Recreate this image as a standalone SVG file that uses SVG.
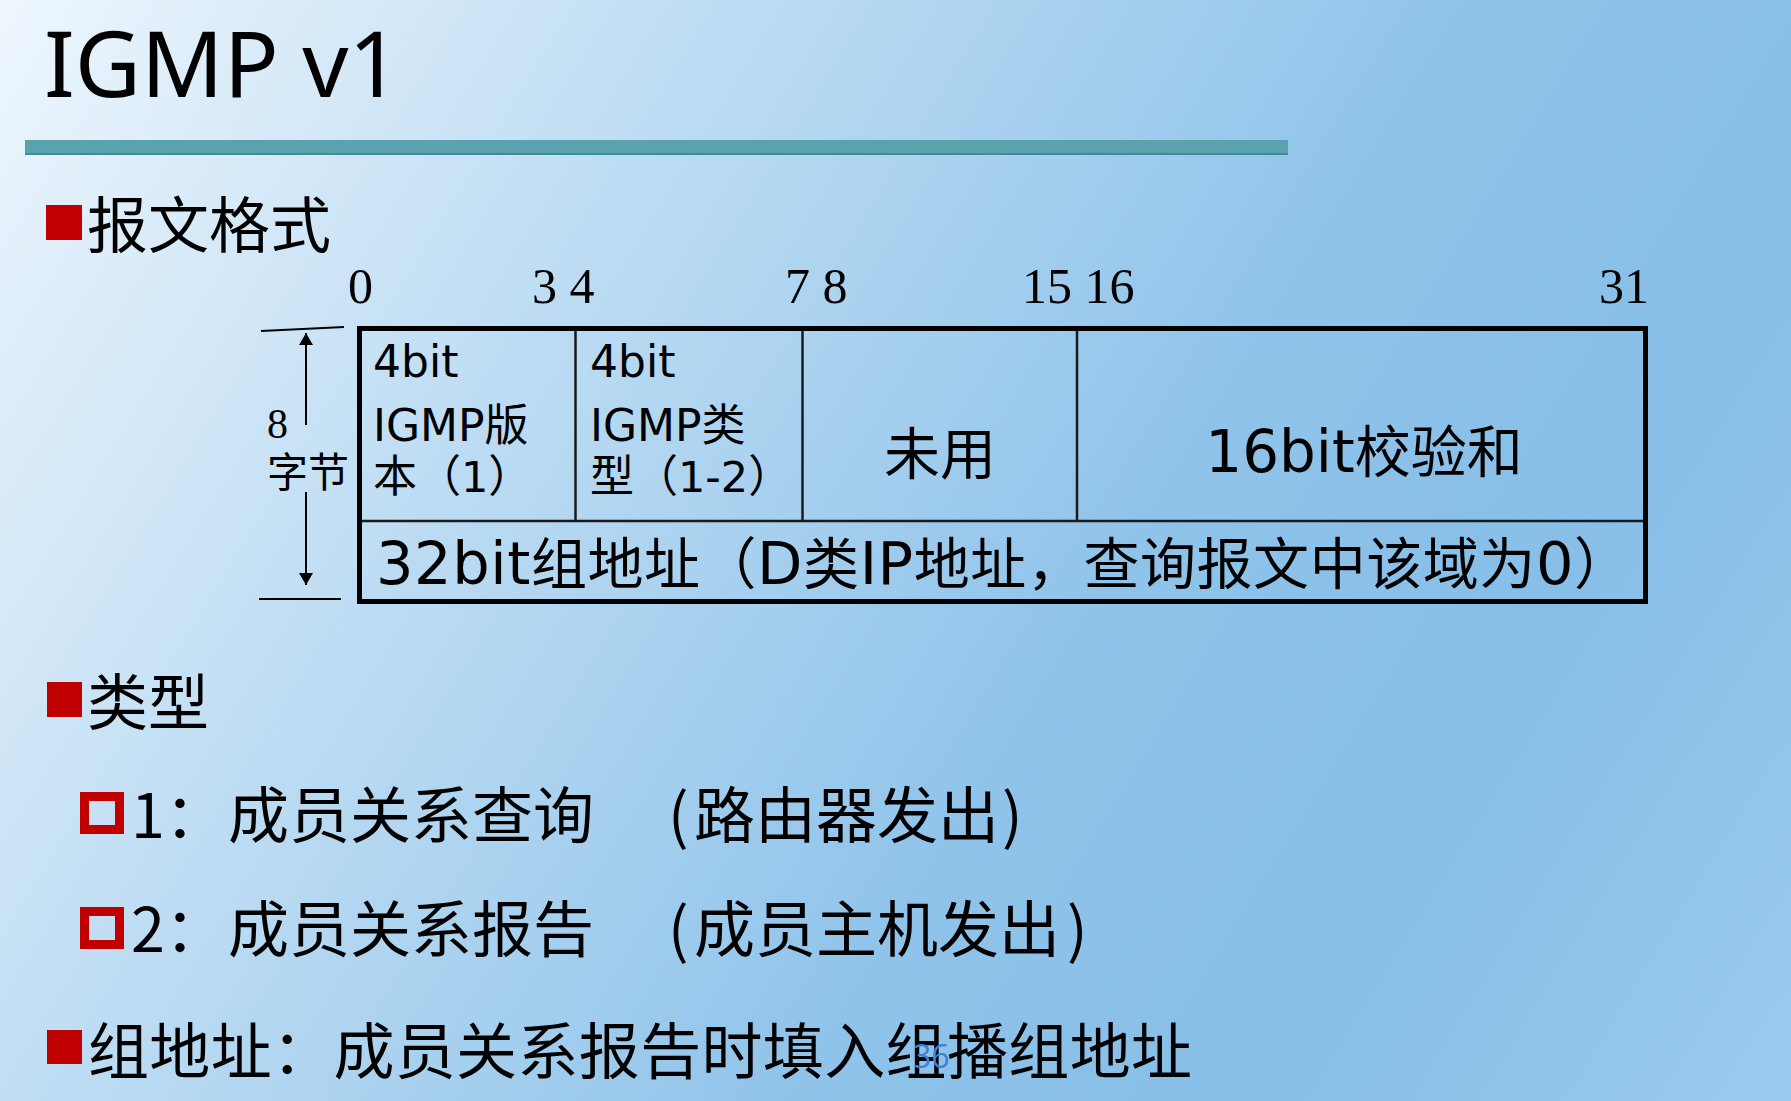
<svg xmlns="http://www.w3.org/2000/svg" width="1791" height="1101" viewBox="0 0 1791 1101">
  <defs>
    <linearGradient id="bg" gradientUnits="userSpaceOnUse" x1="0" y1="0" x2="1791" y2="1101">
      <stop offset="0" stop-color="#eef6fd"/>
      <stop offset="0.3" stop-color="#bddcf3"/>
      <stop offset="0.6" stop-color="#8fc3ea"/>
      <stop offset="0.78" stop-color="#87bfe8"/>
      <stop offset="1" stop-color="#9acaee"/>
    </linearGradient>
    <marker id="ah" viewBox="0 0 12 14" refX="12" refY="7" markerWidth="12" markerHeight="14" markerUnits="userSpaceOnUse" orient="auto">
      <path d="M0,0 L12,7 L0,14 Z" fill="#000"/>
    </marker>
    <style>
      .cjk { font-family: "Noto Sans CJK SC", sans-serif; fill: #000; }
      .cell { font-family: "DejaVu Sans", "Noto Sans CJK SC", sans-serif; fill: #000; }
      .bit { font-family: "Liberation Serif", "Noto Sans CJK SC", serif; fill: #000; font-size: 50px; }
      .red { fill: #c00000; }
      .hollow { fill: none; stroke: #c00000; stroke-width: 9; }
      .inner { stroke: #1a1a1a; stroke-width: 2.5; fill: none; }
    </style>
  </defs>

  <rect id="background" x="0" y="0" width="1791" height="1101" fill="url(#bg)"/>

  <g id="title">
    <text x="44" y="97" font-family="Noto Sans, sans-serif" font-size="91" fill="#000">IGMP v1</text>
    <rect x="25" y="140" width="1263" height="15" fill="#5aa2ad"/>
    <rect x="25" y="153" width="1263" height="2" fill="#3f8c97"/>
  </g>

  <g id="heading-format">
    <rect class="red" x="46" y="205" width="36" height="35"/>
    <text class="cjk" x="87" y="248" font-size="61">报文格式</text>
  </g>

  <g id="bit-numbers">
    <text class="bit" x="348" y="303">0</text>
    <text class="bit" x="532" y="303">3 4</text>
    <text class="bit" x="785" y="303">7 8</text>
    <text class="bit" x="1022" y="303">15 16</text>
    <text class="bit" x="1599" y="303">31</text>
  </g>

  <g id="size-label">
    <line x1="261" y1="331" x2="344" y2="327" stroke="#000" stroke-width="2"/>
    <line x1="259" y1="599" x2="341" y2="599" stroke="#000" stroke-width="2"/>
    <text x="267" y="438" font-family="Liberation Serif, serif" font-size="42" fill="#000">8</text>
    <text class="cjk" x="267" y="487" font-size="41">字节</text>
  </g>

  <g id="connectors">
    <line x1="306" y1="425" x2="306" y2="333" stroke="#000" stroke-width="2" marker-end="url(#ah)"/>
    <line x1="306" y1="492" x2="306" y2="585" stroke="#000" stroke-width="2" marker-end="url(#ah)"/>
  </g>

  <g id="packet-table">
    <line class="inner" x1="575.5" y1="329" x2="575.5" y2="521"/>
    <line class="inner" x1="802.5" y1="329" x2="802.5" y2="521"/>
    <line class="inner" x1="1077" y1="329" x2="1077" y2="521"/>
    <line class="inner" x1="360" y1="521" x2="1645" y2="521"/>
    <rect x="359.5" y="328.5" width="1286" height="273" fill="none" stroke="#000" stroke-width="5"/>
  </g>

  <g id="cell-version">
    <text class="cell" x="373" y="377" font-size="44">4bit</text>
    <text class="cell" x="373" y="441" font-size="44">IGMP<tspan class="cjk" font-size="44">版</tspan></text>
    <text class="cell" x="373" y="492" font-size="43"><tspan class="cjk" font-size="44">本（</tspan>1<tspan class="cjk" font-size="44">）</tspan></text>
  </g>

  <g id="cell-type">
    <text class="cell" x="590" y="377" font-size="44">4bit</text>
    <text class="cell" x="590" y="441" font-size="44">IGMP<tspan class="cjk" font-size="44">类</tspan></text>
    <text class="cell" x="590" y="492" font-size="43"><tspan class="cjk" font-size="44">型（</tspan>1-2<tspan class="cjk" font-size="44">）</tspan></text>
  </g>

  <g id="cell-unused">
    <text class="cjk" x="940" y="474" font-size="56" text-anchor="middle">未用</text>
  </g>

  <g id="cell-checksum">
    <text class="cell" x="1364" y="472" font-size="58" text-anchor="middle">16bit<tspan class="cjk" font-size="56">校验和</tspan></text>
  </g>

  <g id="cell-group-address">
    <text class="cell" x="376" y="584" font-size="59" textLength="1254" lengthAdjust="spacing">32bit<tspan class="cjk" font-size="56">组地址（</tspan>D<tspan class="cjk" font-size="56">类</tspan>IP<tspan class="cjk" font-size="56">地址，查询报文中该域为</tspan>0<tspan class="cjk" font-size="56">）</tspan></text>
  </g>

  <g id="heading-type">
    <rect class="red" x="47" y="682" width="35" height="35"/>
    <text class="cjk" x="87" y="725" font-size="61">类型</text>
  </g>

  <g id="type-1">
    <rect class="hollow" x="84.5" y="796.5" width="35" height="33"/>
    <text class="cjk" x="131" y="838" font-size="61">1：</text>
    <text class="cjk" x="228" y="838" font-size="61">成员关系查询</text>
    <text class="cjk" x="668" y="838" font-size="61">(</text>
    <text class="cjk" x="694" y="838" font-size="61">路由器发出</text>
    <text class="cjk" x="1002" y="838" font-size="61">)</text>
  </g>

  <g id="type-2">
    <rect class="hollow" x="84.5" y="911.5" width="35" height="33"/>
    <text class="cjk" x="131" y="952" font-size="61">2：</text>
    <text class="cjk" x="228" y="952" font-size="61">成员关系报告</text>
    <text class="cjk" x="668" y="952" font-size="61">(</text>
    <text class="cjk" x="694" y="952" font-size="61">成员主机发出</text>
    <text class="cjk" x="1067" y="952" font-size="61">)</text>
  </g>

  <g id="heading-group-address">
    <rect class="red" x="47" y="1030" width="35" height="34"/>
    <text class="cjk" x="88" y="1074" font-size="61" textLength="1104" lengthAdjust="spacing">组地址：成员关系报告时填入组播组地址</text>
  </g>

  <g id="page-number">
    <text x="913" y="1068" font-family="Open Sans, sans-serif" font-size="32" fill="#3d80d8">36</text>
  </g>
</svg>
